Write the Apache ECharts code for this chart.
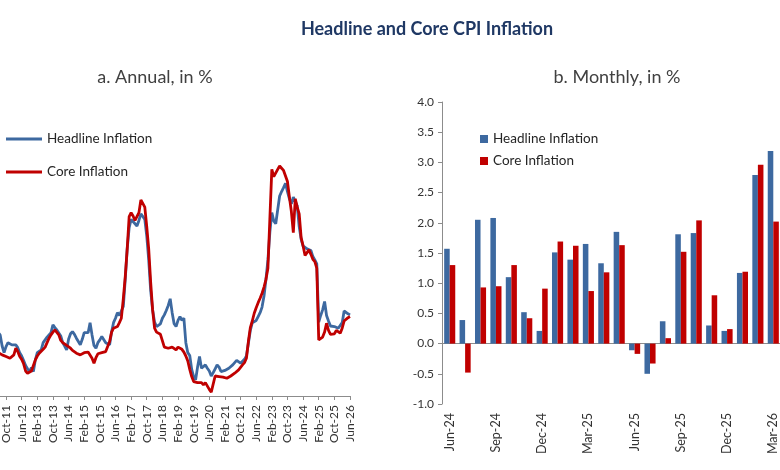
<!DOCTYPE html>
<html>
<head>
<meta charset="utf-8">
<script src="https://cdn.jsdelivr.net/npm/echarts@6/dist/echarts.min.js"></script>
<style>
  html, body { margin: 0; padding: 0; background: #fff; }
  #chart { width: 780px; height: 470px; }
</style>
</head>
<body>
<div id="chart"></div>
<script>
// annual series, monthly from Feb-11 to Jun-26 (first months are off the left edge)
var annualStart = [2011, 1]; // year, month index (0 = Jan)
var annualHeadline = [
  11.5, 11.8, 12.1, 11.8, 11.4, 11.0, 9.0, 7.8,
  8.9, 9.6, 9.5, 9.2, 8.9, 9.2, 8.7, 7.8, 7.2, 6.4, 5.5, 4.9, 4.4, 5.1, 4.4, 6.5,
  7.8, 8.0, 8.3, 9.6, 10.1, 10.6, 11.0, 11.4, 12.8, 12.3, 11.9, 11.6, 10.8, 9.6, 9.0, 8.3,
  10.2, 11.2, 11.6, 11.1, 10.4, 9.8, 9.2, 10.2, 11.4, 11.2, 11.4, 13.2, 11.0, 9.1, 8.6, 9.6,
  10.1, 10.7, 11.0, 9.6, 9.3, 9.2, 11.5, 13.2, 14.0, 15.0, 14.5, 15.3, 16.1, 21.0, 26.5, 30.3,
  31.8, 32.1, 31.0, 30.6, 31.6, 32.8, 32.5, 31.8, 28.8, 24.5, 19.0, 15.5, 13.3, 12.5, 12.2, 13.0,
  14.0, 14.6, 15.4, 16.3, 17.5, 15.0, 13.0, 12.5, 13.6, 14.3, 13.6, 14.0, 9.6, 7.8, 7.3, 4.8,
  3.5, 2.9, 5.2, 7.1, 5.0, 4.9, 5.6, 5.0, 4.5, 3.6, 4.2, 4.9, 5.6, 5.2, 4.4, 4.5,
  4.6, 4.7, 5.0, 5.0, 5.6, 5.8, 6.4, 6.2, 5.9, 6.0, 6.6, 7.2, 9.5, 11.8, 13.2, 13.4,
  13.6, 14.3, 15.0, 16.0, 18.0, 21.0, 24.5, 29.5, 33.0, 31.5, 31.0, 33.5, 36.0, 36.8, 37.5, 38.3,
  36.8, 35.5, 34.6, 35.8, 35.6, 34.2, 30.5, 28.2, 27.0, 26.7, 26.5, 26.7, 26.2, 25.1, 24.5, 23.8,
  13.3, 14.5, 15.5, 17.0, 14.5, 13.5, 12.6, 12.4, 12.5, 12.5, 12.2, 12.0, 13.2, 15.3, 15.2, 14.8,
  14.6
];
var annualCore = [
  7.5, 7.8, 8.0, 7.9, 7.8, 7.7, 7.4, 7.1,
  7.1, 6.9, 6.8, 7.0, 7.4, 8.6, 8.0, 7.1, 6.6, 5.8, 4.5, 4.1, 4.4, 4.5, 4.7, 6.5,
  7.2, 7.7, 8.0, 8.4, 8.8, 9.6, 10.4, 11.0, 11.5, 11.9, 11.7, 11.0, 10.0, 9.6, 9.3, 9.1,
  8.9, 8.6, 8.2, 7.9, 7.7, 7.5, 7.4, 7.5, 7.8, 8.0, 7.9, 7.7, 6.8, 5.9, 6.9, 7.6,
  7.7, 7.8, 7.9, 8.0, 8.3, 9.8, 11.5, 12.2, 12.4, 12.5, 13.2, 14.0, 17.5, 21.5, 26.5, 32.3,
  33.0, 32.4, 31.6, 31.5, 33.0, 35.3, 35.0, 34.0, 30.5, 26.5, 20.5, 15.5, 12.2, 11.5, 11.3, 11.1,
  10.8, 8.8, 8.6, 8.6, 8.6, 8.8, 8.7, 8.3, 8.8, 9.0, 8.4, 7.9, 7.2, 6.3, 4.8, 3.5,
  2.6, 2.3, 2.4, 2.7, 2.4, 2.0, 2.4, 2.2, 1.2, 0.7, 0.8, 3.6, 3.7, 3.5, 3.5, 3.4,
  3.3, 3.2, 3.2, 3.6, 3.9, 4.1, 4.3, 4.7, 5.0, 5.6, 6.0, 6.8, 9.8, 12.3, 13.5, 14.9,
  15.9, 16.8, 17.6, 18.5, 19.6, 21.0, 23.0, 32.0, 40.8, 39.5, 39.2, 40.8, 41.4, 41.0, 40.6, 40.3,
  38.6, 35.8, 33.2, 29.4, 35.5, 34.0, 32.8, 28.5, 27.0, 25.3, 25.8, 26.3, 25.5, 24.6, 24.2, 23.0,
  10.1, 9.8, 10.6, 11.5, 13.1, 11.8, 11.1, 11.0, 11.2, 11.8, 11.9, 11.3, 12.2, 13.5, 13.8, 14.1,
  14.3
];

// monthly series
var monthlyLabels = ['Jun-24','Jul-24','Aug-24','Sep-24','Oct-24','Nov-24','Dec-24','Jan-25','Feb-25','Mar-25','Apr-25',
  'May-25','Jun-25','Jul-25','Aug-25','Sep-25','Oct-25','Nov-25','Dec-25','Jan-26','Feb-26','Mar-26'];
var monthlyHeadline = [1.57, 0.39, 2.05, 2.08, 1.10, 0.52, 0.21, 1.51, 1.39, 1.65, 1.33,
  1.85, -0.11, -0.50, 0.37, 1.81, 1.83, 0.30, 0.21, 1.17, 2.79, 3.19];
var monthlyCore = [1.30, -0.48, 0.93, 0.95, 1.30, 0.42, 0.91, 1.69, 1.62, 0.87, 1.18,
  1.63, -0.17, -0.33, 0.09, 1.52, 2.04, 0.80, 0.24, 1.19, 2.96, 2.02];

var monthNames = ['Jan','Feb','Mar','Apr','May','Jun','Jul','Aug','Sep','Oct','Nov','Dec'];
var annualLabels = [];
for (var i = 0; i < annualHeadline.length; i++) {
  var k = annualStart[1] + i;
  var yr = annualStart[0] + Math.floor(k / 12);
  annualLabels.push(monthNames[k % 12] + '-' + String(yr).slice(2));
}

var blue = '#3D69A0', red = '#C00000';
var font = 'Lato';
var axisGray = '#8C8C8C';

var chart = echarts.init(document.getElementById('chart'));
var option = {
  backgroundColor: '#fff',
  animation: false,
  textStyle: { fontFamily: font },
  title: [
    { text: 'Headline and Core CPI Inflation', left: 427, top: 20, textAlign: 'center', padding: 0,
      textStyle: { fontFamily: font, fontSize: 18, fontWeight: 'bold', color: '#1F3864' } },
    { text: 'a. Annual, in %', left: 155, top: 68, textAlign: 'center', padding: 0,
      textStyle: { fontFamily: font, fontSize: 18, fontWeight: 'normal', color: '#404040' } },
    { text: 'b. Monthly, in %', left: 617, top: 68, textAlign: 'center', padding: 0,
      textStyle: { fontFamily: font, fontSize: 18, fontWeight: 'normal', color: '#404040' } }
  ],
  legend: [
    { data: ['Headline Inflation', 'Core Inflation'], orient: 'vertical', left: 6, top: 132, padding: 0,
      icon: 'rect', itemWidth: 36, itemHeight: 3, itemGap: 19,
      textStyle: { fontFamily: font, fontSize: 13.5, color: '#262626' } },
    { data: ['Headline Inflation', 'Core Inflation'], orient: 'vertical', left: 480, top: 132, padding: 0,
      icon: 'rect', itemWidth: 8, itemHeight: 8, itemGap: 8,
      textStyle: { fontFamily: font, fontSize: 13.5, color: '#262626' } }
  ],
  grid: [
    { left: -9.6, right: 430, top: 96, bottom: 74, outerBoundsMode: 'none' },
    { left: 442, right: -1, top: 102, bottom: 66, outerBoundsMode: 'none' }
  ],
  xAxis: [
    { type: 'category', gridIndex: 0, data: annualLabels, boundaryGap: false,
      axisLine: { lineStyle: { color: axisGray, width: 1 } },
      axisTick: { interval: 7, length: 4, lineStyle: { color: axisGray } },
      axisLabel: { interval: 7, rotate: 90, margin: 9, fontFamily: font, fontSize: 12, color: '#333' } },
    { type: 'category', gridIndex: 1, data: monthlyLabels, boundaryGap: true,
      axisLine: { onZero: true, lineStyle: { color: axisGray, width: 1 } },
      axisTick: { interval: 2, length: 4, lineStyle: { color: axisGray } },
      axisLabel: { show: false } },
    { type: 'category', gridIndex: 1, data: monthlyLabels, boundaryGap: true, position: 'bottom',
      axisLine: { show: false, onZero: false },
      axisTick: { show: false },
      axisLabel: { interval: 2, rotate: 90, margin: 9, fontFamily: font, fontSize: 12.5, color: '#333' } }
  ],
  yAxis: [
    { type: 'value', gridIndex: 0, min: 0, max: 54, show: false },
    { type: 'value', gridIndex: 1, min: -1, max: 4, interval: 0.5,
      axisLine: { show: true, lineStyle: { color: axisGray, width: 1 } },
      axisTick: { show: true, length: 4, lineStyle: { color: axisGray } },
      splitLine: { show: false },
      axisLabel: { margin: 8, fontFamily: font, fontSize: 12, color: '#333',
        formatter: function (v) { return v.toFixed(1); } } }
  ],
  series: [
    { name: 'Headline Inflation', type: 'line', xAxisIndex: 0, yAxisIndex: 0, data: annualHeadline,
      symbol: 'none', lineStyle: { color: blue, width: 2.8 }, itemStyle: { color: blue } },
    { name: 'Core Inflation', type: 'line', xAxisIndex: 0, yAxisIndex: 0, data: annualCore,
      symbol: 'none', lineStyle: { color: red, width: 2.8 }, itemStyle: { color: red } },
    { name: 'Headline Inflation', type: 'bar', xAxisIndex: 1, yAxisIndex: 1, data: monthlyHeadline,
      barGap: '0%', barCategoryGap: '28%', itemStyle: { color: blue } },
    { name: 'Core Inflation', type: 'bar', xAxisIndex: 1, yAxisIndex: 1, data: monthlyCore,
      barGap: '0%', barCategoryGap: '28%', itemStyle: { color: red } }
  ]
};
chart.setOption(option);
</script>
</body>
</html>
